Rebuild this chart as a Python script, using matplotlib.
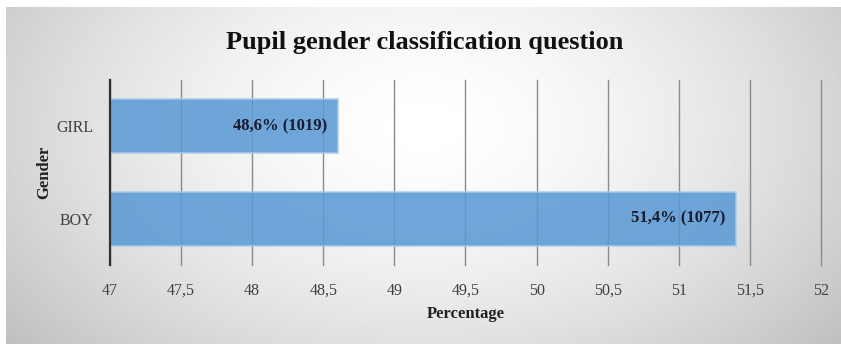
import numpy as np
import matplotlib.pyplot as plt

categories = ["BOY", "GIRL"]
percentages = [51.4, 48.6]
counts = [1077, 1019]
xticks = [47, 47.5, 48, 48.5, 49, 49.5, 50, 50.5, 51, 51.5, 52]

plt.rcParams['font.family'] = ['Liberation Serif', 'DejaVu Serif']

W, H = 841, 344
fig = plt.figure(figsize=(W / 100, H / 100), dpi=100)

# soft radial backdrop behind the chart area
bg = fig.add_axes([6 / W, 0, 1 - 6 / W, 1 - 7 / H])
bg.set_axis_off()
yy, xx = np.mgrid[0:200, 0:500]
cx, cy = 250, 70
r = np.sqrt(((xx - cx) / 330.0) ** 2 + ((yy - cy) / 210.0) ** 2)
shade = np.clip(1.0 - 0.26 * r ** 1.6, 0.72, 1.0)
bg.imshow(shade, cmap='gray', vmin=0, vmax=1, aspect='auto',
          extent=[0, 1, 0, 1], interpolation='bilinear')
bg.set_xlim(0, 1)
bg.set_ylim(0, 1)

ax = fig.add_axes([110 / W, 1 - 265 / H, (821 - 110) / W, (265 - 80) / H])
ax.patch.set_alpha(0)
ypos = np.arange(len(categories))
ax.barh(ypos, [p - 47 for p in percentages], left=47, height=0.58,
        color='#5b9bd5', alpha=0.88, edgecolor='#a9cbe9', linewidth=1.2, zorder=3)
ax.set_xlim(47, 52)
ax.set_ylim(-0.5, 1.5)
ax.set_xticks(xticks)
ax.set_xticklabels([f"{t:g}".replace('.', ',') for t in xticks], fontsize=11.5, color='#404040')
ax.set_yticks(ypos)
ax.set_yticklabels(categories, fontsize=11.5, color='#404040')
ax.tick_params(length=0, pad=13)
ax.tick_params(axis='y', pad=12)
ax.grid(axis='x', color='#8a8a8a', linewidth=1.0, zorder=1)
for gl in ax.get_xgridlines():
    gl.set_clip_on(False)
for s in ['top', 'right', 'bottom']:
    ax.spines[s].set_visible(False)
ax.spines['left'].set_color('#303030')
ax.spines['left'].set_linewidth(1.6)
ax.spines['left'].set_zorder(4)

for y, p, c in zip(ypos, percentages, counts):
    ax.text(p - 0.07, y, f"{p:.1f}".replace('.', ',') + f"% ({c})",
            ha='right', va='center', fontsize=12, fontweight='bold',
            color='#1a1a2a', zorder=5)

ax.set_xlabel("Percentage", fontsize=12, fontweight='bold', color='#202020', labelpad=5)
ax.set_ylabel("Gender", fontsize=12, fontweight='bold', color='#202020', labelpad=3)
fig.text(425 / W, 1 - 42 / H, "Pupil gender classification question",
         ha='center', va='center', fontsize=19, fontweight='bold', color='#111111')

fig.savefig("out.png", dpi=100)
